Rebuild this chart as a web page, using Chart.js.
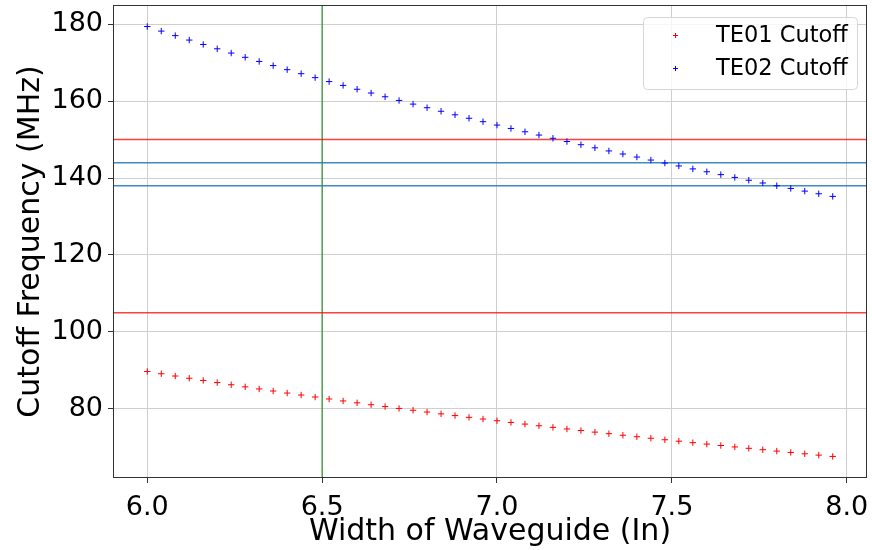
<!DOCTYPE html>
<html>
<head>
<meta charset="utf-8">
<script src="https://cdn.jsdelivr.net/npm/chart.js@4.4.0/dist/chart.umd.min.js"></script>
<style>
  html, body { margin: 0; padding: 0; background: #fff; }
  #wrap { width: 872px; height: 550px; }
</style>
</head>
<body>
<div id="wrap"><canvas id="myGraph" width="872" height="550"></canvas></div>
<script>
/* DATOS */
const widths = [6.00, 6.04, 6.08, 6.12, 6.16, 6.20, 6.24, 6.28, 6.32, 6.36,
  6.40, 6.44, 6.48, 6.52, 6.56, 6.60, 6.64, 6.68, 6.72, 6.76,
  6.80, 6.84, 6.88, 6.92, 6.96, 7.00, 7.04, 7.08, 7.12, 7.16,
  7.20, 7.24, 7.28, 7.32, 7.36, 7.40, 7.44, 7.48, 7.52, 7.56,
  7.60, 7.64, 7.68, 7.72, 7.76, 7.80, 7.84, 7.88, 7.92, 7.96];
const te01 = [89.70, 89.11, 88.52, 87.94, 87.37, 86.81, 86.25, 85.70, 85.16, 84.62,
  84.09, 83.57, 83.06, 82.55, 82.04, 81.55, 81.05, 80.57, 80.09, 79.62,
  79.15, 78.68, 78.23, 77.77, 77.33, 76.89, 76.45, 76.02, 75.59, 75.17,
  74.75, 74.34, 73.93, 73.52, 73.12, 72.73, 72.34, 71.95, 71.57, 71.19,
  70.82, 70.45, 70.08, 69.72, 69.36, 69.00, 68.65, 68.30, 67.95, 67.61];
const te02 = [179.40, 178.21, 177.04, 175.88, 174.74, 173.61, 172.50, 171.40, 170.32, 169.25,
  168.19, 167.14, 166.11, 165.09, 164.09, 163.09, 162.11, 161.14, 160.18, 159.23,
  158.29, 157.37, 156.45, 155.55, 154.66, 153.77, 152.90, 152.03, 151.18, 150.34,
  149.50, 148.67, 147.86, 147.05, 146.25, 145.46, 144.68, 143.90, 143.14, 142.38,
  141.63, 140.89, 140.16, 139.43, 138.71, 138.00, 137.30, 136.60, 135.91, 135.23];
const redLines = [150, 105];
const blueLines = [144, 138];
const greenLine = 6.5;
const xTicks = [6.0, 6.5, 7.0, 7.5, 8.0];
const yTicks = [80, 100, 120, 140, 160, 180];
const xMin = 5.902, xMax = 8.058;
const yMin = 62.0, yMax = 185.0;
const seriesNames = ["TE01 Cutoff", "TE02 Cutoff"];

const FONT = "'DejaVu Sans', sans-serif";

function toPoints(xs, ys) {
  return xs.map((x, i) => ({ x: x, y: ys[i] }));
}
function hLine(y, color) {
  return {
    type: "line", data: [{ x: xMin, y: y }, { x: xMax, y: y }],
    borderColor: color, borderWidth: 1.5, pointRadius: 0, fill: false
  };
}

const datasets = [
  {
    type: "scatter", label: seriesNames[0], data: toPoints(widths, te01),
    pointStyle: "cross", pointRadius: 3.2, borderColor: "#ff0000", backgroundColor: "#ff0000",
    pointBorderWidth: 1
  },
  {
    type: "scatter", label: seriesNames[1], data: toPoints(widths, te02),
    pointStyle: "cross", pointRadius: 3.2, borderColor: "#0000ff", backgroundColor: "#0000ff",
    pointBorderWidth: 1
  }
];
redLines.forEach(v => datasets.push(hLine(v, "rgba(255,0,0,0.75)")));
blueLines.forEach(v => datasets.push(hLine(v, "rgba(31,119,180,0.85)")));
datasets.push({
  type: "line", data: [{ x: greenLine, y: yMin }, { x: greenLine, y: yMax }],
  borderColor: "rgba(0,128,0,0.65)", borderWidth: 1.5, pointRadius: 0, fill: false
});

/* MARCO DE LOS EJES */
const framePlugin = {
  id: "frame",
  afterDraw(chart) {
    const { ctx, chartArea: a } = chart;
    ctx.save();
    ctx.strokeStyle = "#333";
    ctx.lineWidth = 1;
    ctx.strokeRect(a.left + 0.5, a.top + 0.5, a.right - a.left - 1, a.bottom - a.top - 1);
    ctx.restore();
  }
};

/* LEYENDA ESTILO MATPLOTLIB */
const legendPlugin = {
  id: "mplLegend",
  afterDraw(chart) {
    const ctx = chart.ctx;
    const bx = 643, by = 17, bw = 214, bh = 72;
    ctx.save();
    ctx.fillStyle = "rgba(255,255,255,0.8)";
    ctx.strokeStyle = "#d6d6d6";
    ctx.lineWidth = 1;
    ctx.beginPath();
    ctx.roundRect(bx + 0.5, by + 0.5, bw, bh, 4);
    ctx.fill();
    ctx.stroke();
    const colors = ["#ff0000", "#0000ff"];
    const rows = [35, 68];
    ctx.font = "22.5px " + FONT;
    ctx.textBaseline = "middle";
    rows.forEach((ry, i) => {
      ctx.strokeStyle = colors[i];
      ctx.lineWidth = 1;
      ctx.beginPath();
      ctx.moveTo(673, ry + 0.5); ctx.lineTo(678, ry + 0.5);
      ctx.moveTo(675.5, ry - 2); ctx.lineTo(675.5, ry + 3);
      ctx.stroke();
      ctx.fillStyle = "#000";
      ctx.fillText(seriesNames[i], 716, ry + 1);
    });
    ctx.restore();
  }
};

const config = {
  data: { datasets: datasets },
  options: {
    responsive: false,
    animation: false,
    layout: { padding: { top: 5, right: 4, left: 0, bottom: 0 } },
    plugins: {
      legend: { display: false },
      tooltip: { enabled: false }
    },
    scales: {
      x: {
        type: "linear", min: xMin, max: xMax,
        afterBuildTicks: s => { s.ticks = xTicks.map(v => ({ value: v })); },
        afterFit: s => { s.height = 72; s.paddingLeft = 0; s.paddingRight = 0; },
        grid: { color: "#cfcfcf", lineWidth: 1, tickLength: 5, tickColor: "#333" },
        border: { display: false },
        ticks: {
          color: "#000", font: { family: FONT, size: 27 }, padding: 9,
          callback: v => v.toFixed(1), maxRotation: 0
        },
        title: {
          display: true, text: "Width of Waveguide (In)", color: "#000",
          font: { family: FONT, size: 30 }, padding: { top: 0, bottom: 0 }
        }
      },
      y: {
        type: "linear", min: yMin, max: yMax,
        afterBuildTicks: s => { s.ticks = yTicks.map(v => ({ value: v })); },
        afterFit: s => { s.width = 113; s.paddingTop = 0; s.paddingBottom = 0; },
        grid: { color: "#cfcfcf", lineWidth: 1, tickLength: 5, tickColor: "#333" },
        border: { display: false },
        ticks: { color: "#000", font: { family: FONT, size: 27 }, padding: 5 },
        title: {
          display: true, text: "Cutoff Frequency (MHz)", color: "#000",
          font: { family: FONT, size: 30 }, padding: { top: 13, bottom: 0 }
        }
      }
    }
  },
  plugins: [framePlugin, legendPlugin]
};

const chart = new Chart(document.getElementById("myGraph"), config);
</script>
</body>
</html>
